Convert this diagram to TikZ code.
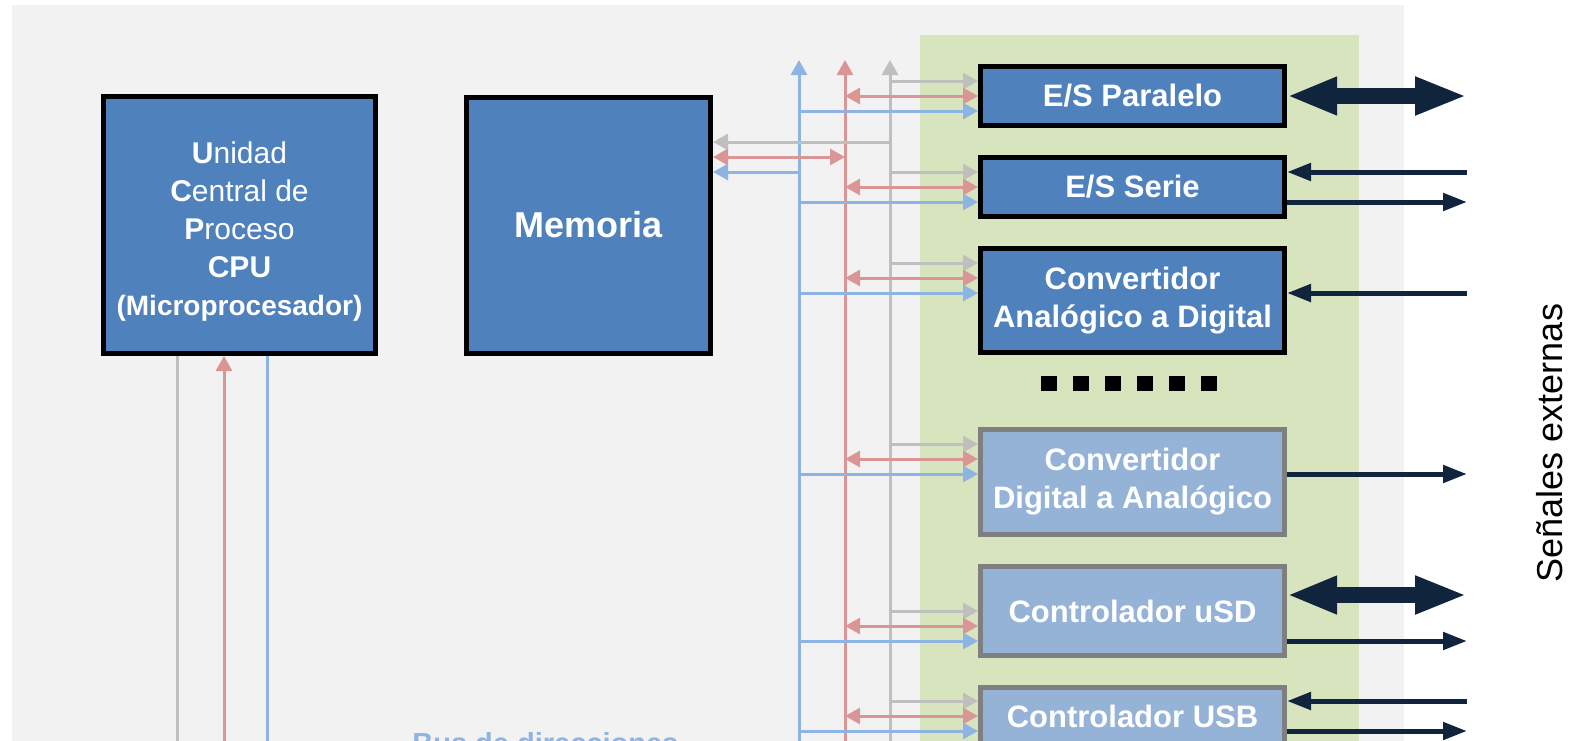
\documentclass[tikz,border=0pt]{standalone}
\usepackage{fontspec}
\setmainfont{Liberation Sans}
\usetikzlibrary{arrows.meta,calc,positioning}

\definecolor{cpublue}{HTML}{4F81BD}
\definecolor{paleblue}{HTML}{95B3D7}
\definecolor{boxgrey}{HTML}{7F7F7F}
\definecolor{panelgrey}{HTML}{F2F2F2}
\definecolor{periphgreen}{HTML}{D7E4BD}
\definecolor{addrblue}{HTML}{8DB4E2}
\definecolor{datared}{HTML}{D99694}
\definecolor{ctrlgrey}{HTML}{BFBFBF}
\definecolor{navy}{HTML}{10243E}

\begin{document}
\begin{tikzpicture}[%
      x=0.5pt, y=-0.5pt,          % one unit = one pixel of the sketch
      >={Triangle[length=7.5pt,width=8pt]},
      node distance=13.5pt,
      ]
  \tikzset{
    cpubox/.style={draw=black, line width=2.5pt, fill=cpublue, text=white,
      align=center, inner sep=0pt},
    iobox/.style={cpubox, minimum width=152pt,
      font=\bfseries\fontsize{15.5}{19}\selectfont},
    newbox/.style={iobox, draw=boxgrey, fill=paleblue},
    abus/.style={draw=addrblue, line width=1.5pt},
    dbus/.style={draw=datared, line width=1.5pt},
    cbus/.style={draw=ctrlgrey, line width=1.5pt},
    sig/.style={draw=navy, line width=2.5pt,
      >={Triangle[length=12pt,width=8.5pt]}},
    widesig/.style={draw=navy, line width=8pt,
      {Triangle[length=25pt,width=17.5pt]}-{Triangle[length=26pt,width=17.5pt]}}}

 \useasboundingbox (0,0) rectangle (1578,740);
 \clip (0,0) rectangle (1578,740);

 % background panels
 \fill[panelgrey] (12,5) rectangle (1404,760);
 \fill[periphgreen] (920,35) rectangle (1359,760);

 % processor and memory
 \node[cpubox, minimum width=136pt, minimum height=128.5pt,
   font=\fontsize{15}{19}\selectfont] (cpu) at (239.5,225)
   {\rule{0pt}{17pt}\textbf{U}nidad\\ \textbf{C}entral de\\ \textbf{P}roceso\\ \textbf{CPU}\\
    {\bfseries\fontsize{14}{18}\selectfont (Microprocesador)}};
 \node[cpubox, minimum width=122pt, minimum height=128pt,
   font=\bfseries\fontsize{18}{22}\selectfont, right=43pt of cpu] (mem) {Memoria};

 % peripherals
 \node[iobox, minimum height=29.5pt] (par) at (1132.5,96) {E/S Paralelo};
 \node[iobox, minimum height=29.5pt, below=of par] (ser) {E/S Serie};
 \node[iobox, minimum height=52pt, below=of ser] (adc) {Convertidor\\ Anal\'ogico a Digital};
 \node[newbox, minimum height=52.5pt, below=36pt of adc] (dac) {Convertidor\\ Digital a Anal\'ogico};
 \node[newbox, minimum height=44.5pt, below=of dac] (usd) {Controlador uSD};
 \node[newbox, minimum height=28.5pt, below=of usd] (usb) {Controlador USB};

 \foreach \i in {0,...,5}
   \fill (1041+32*\i,376) rectangle ++(16,15);

 % bus lines
 \coordinate (atop) at (799,60);  \coordinate (abot) at (799,760);
 \coordinate (dtop) at (845,60);  \coordinate (dbot) at (845,760);
 \coordinate (ctop) at (890,60);  \coordinate (cbot) at (890,760);
 \draw[abus,->] (abot) -- (atop);
 \draw[dbus,->] (dbot) -- (dtop);
 \draw[cbus,->] (cbot) -- (ctop);

 \coordinate (cpuc) at (177,760);
 \coordinate (cpud) at (224,760);
 \coordinate (cpua) at (267,760);
 \draw[cbus] (cpu.south -| cpuc) -- (cpuc);
 \draw[dbus,->] (cpud) -- (cpu.south -| cpud);
 \draw[abus] (cpu.south -| cpua) -- (cpua);

 \draw[cbus,->] (ctop |- 0,142) -- (mem.east |- 0,142);
 \draw[dbus,<->] (mem.east |- 0,157) -- (dtop |- 0,157);
 \draw[abus,->] (atop |- 0,172) -- (mem.east |- 0,172);

 \foreach \b/\y in {par/96,ser/187,adc/278,dac/459,usd/626,usb/716} {
   \draw[cbus,->] (ctop |- 0,\y-15) -- (\b.west |- 0,\y-15);
   \draw[dbus,<->] (dtop |- 0,\y) -- (\b.west |- 0,\y);
   \draw[abus,->] (atop |- 0,\y+15) -- (\b.west |- 0,\y+15);
 }

 % external signals
 \coordinate (ext) at (1467,0);
 \draw[widesig] (par.east) -- (ext |- par.east);
 \draw[sig,<-] (ser.east |- 0,172) -- (ext |- 0,172);
 \draw[sig,->] (ser.east |- 0,202) -- (ext |- 0,202);
 \draw[sig,<-] (adc.east |- 0,293) -- (ext |- 0,293);
 \draw[sig,->] (dac.east |- 0,474) -- (ext |- 0,474);
 \draw[widesig] (usd.east |- 0,595) -- (ext |- 0,595);
 \draw[sig,->] (usd.east |- 0,641) -- (ext |- 0,641);
 \draw[sig,<-] (usb.east |- 0,701) -- (ext |- 0,701);
 \draw[sig,->] (usb.east |- 0,731) -- (ext |- 0,731);

 \node[rotate=90, font=\fontsize{18}{20}\selectfont] (ext label) at (1550,443)
   {Se\~nales externas};
 \node[anchor=base west, inner sep=0pt, text=addrblue,
   font=\bfseries\fontsize{14.5}{17}\selectfont] (addr label) at (412,753)
   {Bus de direcciones};
\end{tikzpicture}
\end{document}
